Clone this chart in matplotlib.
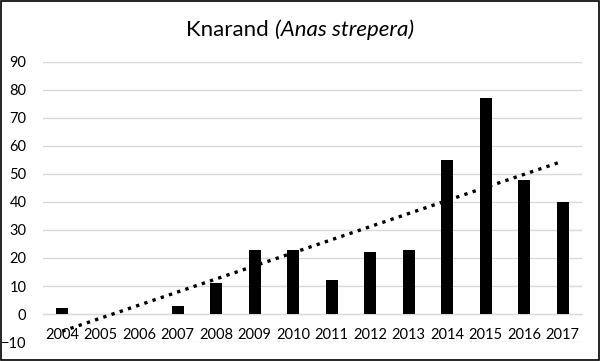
import matplotlib
matplotlib.use("Agg")
import matplotlib.pyplot as plt
import numpy as np

plt.rcParams['font.family'] = ['Lato', 'DejaVu Sans']

years = [2004, 2005, 2006, 2007, 2008, 2009, 2010, 2011, 2012, 2013, 2014, 2015, 2016, 2017]
counts = [2, 0, 0, 3, 11, 23, 23, 12, 22, 23, 55, 77, 48, 40]
yticks = [-10, 0, 10, 20, 30, 40, 50, 60, 70, 80, 90]

fig = plt.figure(figsize=(6, 3.61), dpi=100)
ax = fig.add_axes([43 / 600, 1 - 342 / 361, (582 - 43) / 600, (342 - 62) / 361])

x = np.arange(len(years))
ax.bar(x, counts, width=0.31, color='black', zorder=3)

# linear trend line, like Excel
k, m = np.polyfit(x, counts, 1)
ax.plot(x, k * x + m, color='black', linestyle=(0, (1, 1.6)), linewidth=2.4, zorder=4)

ax.set_xlim(-0.5, len(years) - 0.5)
ax.set_ylim(-10, 90)
ax.set_yticks(yticks)
ax.yaxis.grid(True, color='#d9d9d9', linewidth=1, zorder=0)
ax.tick_params(axis='y', length=0, pad=12, labelsize=10.5)

ax.set_xticks(x)
ax.set_xticklabels([str(y) for y in years])
ax.spines['bottom'].set_position(('data', 0))
ax.spines['bottom'].set_color('#d9d9d9')
ax.tick_params(axis='x', length=0, pad=10, labelsize=10.5)
for s in ['top', 'right', 'left']:
    ax.spines[s].set_visible(False)

# title: plain + italic part, centred together
ty = 1 - 30 / 361
t1 = fig.text(0.5, ty, 'Knarand ', ha='left', va='center', fontsize=16)
t2 = fig.text(0.5, ty, '(Anas strepera)', ha='left', va='center', fontsize=16, style='italic')
r = fig.canvas.get_renderer()
w1 = t1.get_window_extent(r).width / fig.bbox.width
w2 = t2.get_window_extent(r).width / fig.bbox.width
x0 = 0.5 - (w1 + w2) / 2
t1.set_x(x0)
t2.set_x(x0 + w1)

# outer border
fig.patches.append(plt.Rectangle((0.001, 0.002), 0.997, 0.995, transform=fig.transFigure,
                                 fill=False, edgecolor='black', linewidth=1.2))

fig.savefig('out.png', dpi=100)
